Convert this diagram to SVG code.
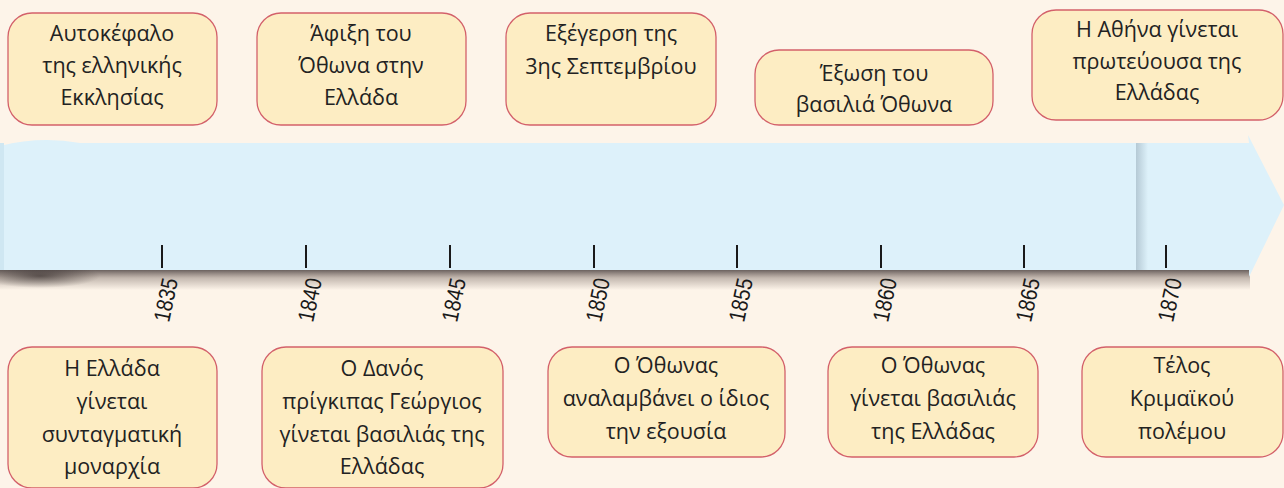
<svg xmlns="http://www.w3.org/2000/svg" width="1284" height="488" viewBox="0 0 1284 488">
<defs>
<linearGradient id="shB" x1="0" y1="0" x2="0" y2="1">
<stop offset="0" stop-color="#3a3030" stop-opacity="0.75"/>
<stop offset="0.4" stop-color="#5a4a45" stop-opacity="0.35"/>
<stop offset="1" stop-color="#5a4a45" stop-opacity="0"/>
</linearGradient>
<linearGradient id="shR" x1="0" y1="0" x2="1" y2="0">
<stop offset="0" stop-color="#6a8090" stop-opacity="0.35"/>
<stop offset="1" stop-color="#6a8090" stop-opacity="0"/>
</linearGradient>
<radialGradient id="blob" cx="0.5" cy="0.5" r="0.5">
<stop offset="0" stop-color="#201818" stop-opacity="0.6"/>
<stop offset="1" stop-color="#201818" stop-opacity="0"/>
</radialGradient>
</defs>
<style>
.box{fill:#fdedc3;stroke:#d3606a;stroke-width:1.3}
.t{font-family:"Open Sans","Noto Sans","DejaVu Sans",sans-serif;font-size:21.5px;fill:#222;text-anchor:middle}
.tick{stroke:#1a1a1a;stroke-width:2}
.yr{font-family:"Liberation Sans",Arial,sans-serif;font-size:23px;fill:#1a1a1a}
</style>
<rect width="1284" height="488" fill="#fdf4e9"/>
<g id="timeline">
<rect x="0" y="270" width="1250" height="20" fill="url(#shB)"/>
<ellipse cx="40" cy="276" rx="60" ry="12" fill="url(#blob)"/>
<path d="M1136 143 H1249 L1248 135 L1284 205 L1249 277 L1249 270 H1136 Z" fill="#ddf1fa"/>
<rect x="1136" y="143" width="12" height="127" fill="url(#shR)"/>
<path d="M0 146 Q40 136 80 143 H1136 V270 H0 Z" fill="#ddf1fa"/>
<rect x="0" y="143" width="4" height="127" fill="#cfe7f2"/>
<g id="ticks">
<line class="tick" x1="162" y1="245" x2="162" y2="268"/>
<line class="tick" x1="306" y1="245" x2="306" y2="268"/>
<line class="tick" x1="450" y1="245" x2="450" y2="268"/>
<line class="tick" x1="594" y1="245" x2="594" y2="268"/>
<line class="tick" x1="737" y1="245" x2="737" y2="268"/>
<line class="tick" x1="881" y1="245" x2="881" y2="268"/>
<line class="tick" x1="1024" y1="245" x2="1024" y2="268"/>
<line class="tick" x1="1166" y1="245" x2="1166" y2="268"/>
</g>
<g id="years">
<text class="yr" textLength="44" lengthAdjust="spacingAndGlyphs" transform="translate(169,323) rotate(-78)">1835</text>
<text class="yr" textLength="44" lengthAdjust="spacingAndGlyphs" transform="translate(313,323) rotate(-78)">1840</text>
<text class="yr" textLength="44" lengthAdjust="spacingAndGlyphs" transform="translate(457,323) rotate(-78)">1845</text>
<text class="yr" textLength="44" lengthAdjust="spacingAndGlyphs" transform="translate(601,323) rotate(-78)">1850</text>
<text class="yr" textLength="44" lengthAdjust="spacingAndGlyphs" transform="translate(744,323) rotate(-78)">1855</text>
<text class="yr" textLength="44" lengthAdjust="spacingAndGlyphs" transform="translate(888,323) rotate(-78)">1860</text>
<text class="yr" textLength="44" lengthAdjust="spacingAndGlyphs" transform="translate(1031,323) rotate(-78)">1865</text>
<text class="yr" textLength="44" lengthAdjust="spacingAndGlyphs" transform="translate(1173,323) rotate(-78)">1870</text>
</g>
</g>
<g id="connectors"></g>
<g id="n1">
<rect class="box" x="8" y="13" width="209" height="112" rx="24"/>
<text class="t" x="112" y="41">Αυτοκέφαλο</text>
<text class="t" x="112" y="73">της ελληνικής</text>
<text class="t" x="112" y="105">Εκκλησίας</text>
</g>
<g id="n2">
<rect class="box" x="257" y="13" width="209" height="112" rx="24"/>
<text class="t" x="361" y="41">Άφιξη του</text>
<text class="t" x="361" y="73">Όθωνα στην</text>
<text class="t" x="361" y="105">Ελλάδα</text>
</g>
<g id="n3">
<rect class="box" x="506" y="13" width="210" height="112" rx="24"/>
<text class="t" x="611" y="41">Εξέγερση της</text>
<text class="t" x="611" y="74">3ης Σεπτεμβρίου</text>
</g>
<g id="n4">
<rect class="box" x="755" y="50" width="238" height="75" rx="24"/>
<text class="t" x="874" y="81">Έξωση του</text>
<text class="t" x="874" y="112">βασιλιά Όθωνα</text>
</g>
<g id="n5">
<rect class="box" x="1032" y="10" width="251" height="110" rx="24"/>
<text class="t" x="1157" y="37">Η Αθήνα γίνεται</text>
<text class="t" x="1157" y="69">πρωτεύουσα της</text>
<text class="t" x="1157" y="100">Ελλάδας</text>
</g>
<g id="n6">
<rect class="box" x="8" y="347" width="209" height="141" rx="24"/>
<text class="t" x="112" y="376">Η Ελλάδα</text>
<text class="t" x="112" y="409">γίνεται</text>
<text class="t" x="112" y="442">συνταγματική</text>
<text class="t" x="112" y="474">μοναρχία</text>
</g>
<g id="n7">
<rect class="box" x="262" y="347" width="241" height="141" rx="24"/>
<text class="t" x="382" y="376">Ο Δανός</text>
<text class="t" x="382" y="409">πρίγκιπας Γεώργιος</text>
<text class="t" x="382" y="442">γίνεται βασιλιάς της</text>
<text class="t" x="382" y="474">Ελλάδας</text>
</g>
<g id="n8">
<rect class="box" x="548" y="347" width="237" height="110" rx="24"/>
<text class="t" x="666" y="373">Ο Όθωνας</text>
<text class="t" x="666" y="406">αναλαμβάνει ο ίδιος</text>
<text class="t" x="666" y="439">την εξουσία</text>
</g>
<g id="n9">
<rect class="box" x="828" y="347" width="210" height="110" rx="24"/>
<text class="t" x="933" y="373">Ο Όθωνας</text>
<text class="t" x="933" y="406">γίνεται βασιλιάς</text>
<text class="t" x="933" y="439">της Ελλάδας</text>
</g>
<g id="n10">
<rect class="box" x="1082" y="347" width="201" height="110" rx="24"/>
<text class="t" x="1182" y="373">Τέλος</text>
<text class="t" x="1182" y="406">Κριμαϊκού</text>
<text class="t" x="1182" y="439">πολέμου</text>
</g>
</svg>
